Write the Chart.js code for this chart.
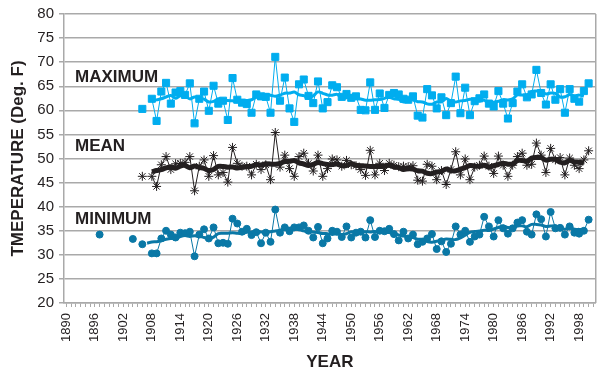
<!DOCTYPE html>
<html>
<head>
<meta charset="utf-8">
<script src="https://cdn.jsdelivr.net/npm/chart.js@4.4.1/dist/chart.umd.min.js"></script>
<style>
  html, body { margin: 0; padding: 0; background: #fff; }
</style>
</head>
<body>
<canvas id="tempChart" width="615" height="375"></canvas>
<script>
// years 1890..2001 (last category left empty, like the original axis)
const firstYear = 1890;
const lastYear = 2001;
const years = [];
for (let y = firstYear; y <= lastYear; y++) years.push(String(y));

// annual values, one row per decade, null = no record
const maxTemps = [
  null, null, null, null, null, null, null, null, null, null,
  null, null, null, null, null, null, 60.3, null, 62.4, 57.8,
  63.9, 65.7, 61.4, 63.7, 64.0, 63.2, 65.6, 57.3, 62.4, 63.9,
  59.9, 65.1, 61.4, 62.0, 58.0, 66.7, 62.2, 61.6, 61.3, 59.5,
  63.3, 62.9, 62.8, 59.5, 71.1, 62.0, 66.8, 60.4, 57.6, 65.4,
  66.4, 63.0, 61.5, 66.0, 60.4, 61.7, 65.2, 64.8, 62.8, 63.4,
  62.6, 62.9, 60.1, 60.0, 65.8, 60.1, 63.5, 60.5, 63.2, 63.6,
  63.3, 62.4, 62.2, 62.9, 58.9, 58.5, 64.4, 63.1, 60.4, 62.7,
  59.0, 61.5, 67.0, 59.4, 64.7, 59.0, 61.9, 62.5, 63.3, 61.4,
  60.8, 64.0, 61.4, 58.3, 61.5, 63.9, 65.4, 62.7, 63.3, 68.4,
  63.6, 61.2, 65.4, 62.2, 64.4, 59.5, 64.4, 62.4, 61.8, 64.0,
  65.6, null
];

const meanTemps = [
  null, null, null, null, null, null, null, null, null, null,
  null, null, null, null, null, null, 46.3, null, 46.3, 44.2,
  48.7, 50.4, 47.7, 48.9, 49.0, 49.2, 50.4, 43.3, 48.4, 49.7,
  46.3, 50.6, 46.6, 47.1, 45.1, 52.3, 49.0, 48.4, 48.4, 46.6,
  48.8, 47.7, 48.7, 45.6, 55.4, 48.2, 50.7, 47.9, 46.3, 50.4,
  51.1, 49.0, 47.4, 50.7, 46.3, 47.9, 49.9, 49.7, 48.4, 49.6,
  48.7, 48.5, 47.7, 46.5, 51.7, 46.6, 49.0, 47.5, 49.0, 48.6,
  48.3, 48.4, 48.3, 48.5, 45.5, 45.3, 48.8, 48.4, 45.6, 47.5,
  44.6, 47.7, 51.4, 46.6, 49.9, 45.6, 48.2, 48.6, 50.5, 48.4,
  46.9, 50.5, 48.6, 46.3, 48.6, 50.4, 51.1, 48.6, 48.8, 53.2,
  50.7, 47.1, 52.1, 49.7, 50.2, 46.6, 50.1, 48.6, 47.9, 49.7,
  51.6, null
];

const minTemps = [
  null, null, null, null, null, null, null, 34.2, null, null,
  null, null, null, null, 33.3, null, 32.2, null, 30.3, 30.3,
  33.4, 35.0, 34.2, 33.6, 34.6, 34.5, 34.8, 29.7, 34.2, 35.3,
  33.4, 35.7, 32.4, 32.5, 32.3, 37.5, 36.5, 34.8, 35.4, 34.1,
  34.7, 32.4, 34.6, 32.7, 39.4, 34.6, 35.7, 34.9, 35.7, 35.7,
  36.1, 35.0, 33.6, 35.8, 32.4, 33.4, 35.0, 34.8, 33.7, 35.9,
  33.6, 34.6, 34.8, 33.6, 37.2, 33.7, 35.0, 34.9, 35.4, 34.3,
  33.0, 34.8, 33.4, 34.2, 32.2, 32.7, 33.4, 34.3, 31.2, 32.8,
  30.6, 32.3, 35.9, 34.2, 35.0, 32.7, 33.8, 34.2, 37.9, 35.9,
  33.8, 37.2, 35.5, 34.4, 35.5, 36.7, 37.2, 34.8, 34.2, 38.4,
  37.4, 33.8, 38.9, 35.5, 35.6, 34.2, 35.9, 34.6, 34.4, 35.0,
  37.3, null
];

const yTicks = { min: 20, max: 80, step: 5 };

// 9-year running mean, like the spreadsheet trendline
function movingAverage(values) {
  return values.map((_, i) => {
    const win = values.slice(Math.max(0, i - 4), i + 5).filter(v => v !== null);
    return win.length >= 6 ? win.reduce((a, b) => a + b, 0) / win.length : null;
  });
}

const colors = {
  max: '#00adef',
  mean: '#231f20',
  min: '#0a78a6',
  grid: '#a9a9a9'
};

Chart.defaults.font.family = '"Liberation Sans", Arial, Helvetica, sans-serif';
Chart.defaults.color = '#231f20';

const seriesLabelPlugin = {
  id: 'seriesLabels',
  afterDatasetsDraw(chart) {
    const { ctx, chartArea, scales: { y } } = chart;
    ctx.save();
    // right frame line
    ctx.strokeStyle = colors.grid;
    ctx.lineWidth = 1.5;
    ctx.beginPath();
    ctx.moveTo(chartArea.right, chartArea.top);
    ctx.lineTo(chartArea.right, chartArea.bottom);
    ctx.stroke();

    ctx.font = 'bold 17px "Liberation Sans", Arial, sans-serif';
    ctx.fillStyle = '#231f20';
    ctx.textBaseline = 'middle';
    ctx.fillText('MAXIMUM', 75, y.getPixelForValue(66.8));
    ctx.fillText('MEAN', 75, y.getPixelForValue(52.5));
    ctx.fillText('MINIMUM', 75, y.getPixelForValue(37.3));
    ctx.restore();
  }
};

function series(label, data, color, style, radius) {
  return {
    label, data,
    borderColor: color,
    backgroundColor: color,
    borderWidth: 1,
    pointStyle: style,
    pointRadius: radius,
    pointBorderWidth: 1,
    pointBackgroundColor: color,
    pointBorderColor: color,
    spanGaps: false,
    order: 2
  };
}

function trend(label, data, color, width) {
  return {
    label, data,
    borderColor: color,
    borderWidth: width,
    pointRadius: 0,
    spanGaps: false,
    tension: 0.3,
    order: 1
  };
}

new Chart(document.getElementById('tempChart').getContext('2d'), {
  type: 'line',
  data: {
    labels: years,
    datasets: [
      trend('Max trend', movingAverage(maxTemps), colors.max, 3),
      trend('Mean trend', movingAverage(meanTemps), colors.mean, 5),
      trend('Min trend', movingAverage(minTemps), colors.min, 3),
      series('Maximum', maxTemps, colors.max, 'rect', 5),
      series('Mean', meanTemps, colors.mean, 'star', 4.5),
      series('Minimum', minTemps, colors.min, 'circle', 3.5)
    ]
  },
  options: {
    responsive: false,
    animation: false,
    devicePixelRatio: 1,
    layout: { padding: { top: 7, right: 4, left: 0, bottom: 0 } },
    plugins: {
      legend: { display: false },
      tooltip: { enabled: false }
    },
    scales: {
      x: {
        type: 'category',
        offset: true,
        grid: { drawOnChartArea: false, drawTicks: true, tickLength: 4, color: colors.grid },
        border: { color: colors.grid, width: 1.5 },
        ticks: {
          autoSkip: false,
          minRotation: 90,
          maxRotation: 90,
          padding: 6,
          color: '#231f20',
          font: { size: 13 },
          callback: (v, i) => ((i % 6) === 0 ? years[i] : '')
        },
        title: {
          display: true,
          text: 'YEAR',
          color: '#231f20',
          font: { size: 17, weight: 'bold' },
          padding: { top: 2, bottom: 2 }
        },
        afterFit: (scale) => { scale.height = 72; }
      },
      y: {
        min: yTicks.min,
        max: yTicks.max,
        grid: { color: colors.grid, lineWidth: 1.5, tickLength: 5 },
        border: { color: colors.grid, width: 1.5 },
        ticks: {
          stepSize: yTicks.step,
          padding: 5,
          color: '#231f20',
          font: { size: 15 }
        },
        title: {
          display: true,
          text: 'TMEPERATURE (Deg. F)',
          color: '#231f20',
          font: { size: 17, weight: 'bold' },
          padding: { top: 8, bottom: 8 }
        },
        afterFit: (scale) => { scale.width = 64; }
      }
    }
  },
  plugins: [seriesLabelPlugin]
});
</script>
</body>
</html>
